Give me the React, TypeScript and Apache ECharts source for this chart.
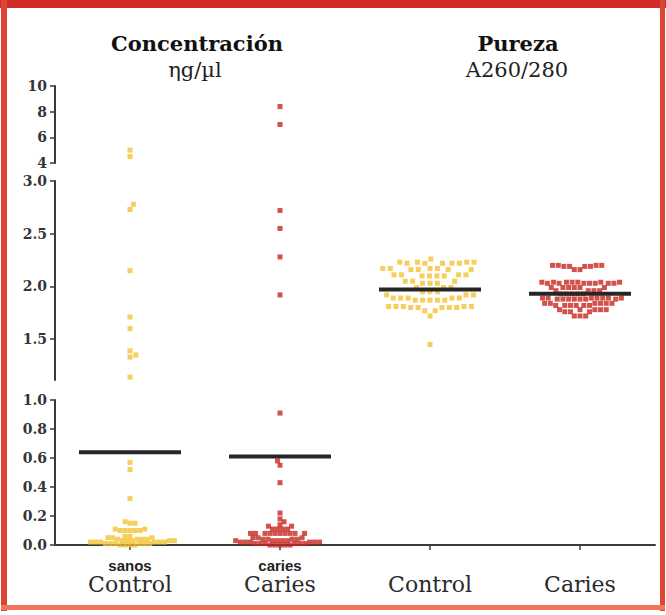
import React, { useEffect, useRef } from 'react';
import * as echarts from 'echarts';

// ---------- data ----------
const categories = ['Control', 'Caries', 'Control', 'Caries'];
const subLabels = ['sanos', 'caries', '', ''];

const controlConcentration = [
  5.0, 4.5,
  2.78, 2.73, 2.15, 1.71, 1.6, 1.39, 1.35, 1.33, 1.14,
  0.57, 0.52, 0.32, 0.15, 0.15, 0.16,
  0.1, 0.1, 0.11, 0.1, 0.1, 0.11, 0.1,
  0.06, 0.06, 0.05, 0.05, 0.05, 0.04, 0.04, 0.04, 0.04, 0.03, 0.03, 0.03,
  0.03, 0.03, 0.02, 0.02, 0.02, 0.02, 0.02, 0.02, 0.01, 0.01, 0.01, 0.01,
  0.01, 0.01, 0.0, 0.0, 0.0, 0.0,
];

const cariesConcentration = [
  8.4, 7.0,
  2.72, 2.55, 2.28, 1.92,
  0.91, 0.58, 0.55, 0.43, 0.22, 0.18, 0.16, 0.14, 0.13, 0.13,
  0.11, 0.11, 0.11, 0.11,
  0.08, 0.08, 0.08, 0.08, 0.08, 0.08, 0.08, 0.08, 0.08, 0.08,
  0.05, 0.05, 0.05, 0.04, 0.04, 0.04, 0.04, 0.03, 0.03, 0.03, 0.03, 0.03,
  0.02, 0.02, 0.02, 0.02, 0.02, 0.02, 0.01, 0.01, 0.01, 0.01, 0.01, 0.01,
  0.0, 0.0, 0.0, 0.0, 0.0,
];

const controlPurity = [
  2.26, 2.23, 2.23, 2.23, 2.23, 2.22, 2.22, 2.22, 2.22, 2.22,
  2.17, 2.17, 2.17, 2.17, 2.16, 2.16, 2.16, 2.16,
  2.11, 2.11, 2.11, 2.11, 2.1, 2.1, 2.1, 2.1,
  2.05, 2.05, 2.05, 2.03, 2.03, 2.03,
  1.99, 1.99, 1.99, 1.95, 1.95, 1.95, 1.92, 1.92, 1.92,
  1.89, 1.89, 1.89, 1.89, 1.89, 1.87, 1.87, 1.87, 1.87, 1.87,
  1.81, 1.81, 1.81, 1.81, 1.81, 1.8, 1.8, 1.8, 1.8, 1.8,
  1.77, 1.77, 1.72, 1.45,
];

const cariesPurity = [
  2.2, 2.2, 2.2, 2.2, 2.19, 2.19, 2.19, 2.19, 2.16, 2.16,
  2.04, 2.04, 2.04, 2.04, 2.04, 2.04, 2.04, 2.03, 2.03, 2.03, 2.03, 2.03, 2.03, 2.03,
  1.99, 1.99, 1.99, 1.99, 1.99, 1.99, 1.96, 1.96, 1.96, 1.96,
  1.93, 1.93, 1.93, 1.93, 1.93,
  1.89, 1.89, 1.89, 1.89, 1.89, 1.89, 1.89, 1.88, 1.88, 1.88, 1.88, 1.88, 1.88, 1.88,
  1.84, 1.84, 1.84, 1.84, 1.84, 1.84, 1.82, 1.82, 1.82, 1.82, 1.82, 1.82,
  1.78, 1.78, 1.78, 1.78, 1.78, 1.76, 1.76, 1.76, 1.72, 1.72, 1.72,
];

const concentrationMeans = [0.64, 0.61];
const purityMeans = [1.97, 1.93];

const yTicksTop = [4, 6, 8, 10];
const yTicksMid = [1.5, 2.0, 2.5, 3.0];
const yTicksLow = [0, 0.2, 0.4, 0.6, 0.8, 1.0];

// ---------- layout ----------
const YELLOW = '#f2c233';
const RED = '#c8281f';
const AXIS = '#3a3a3a';
const GRID_LEFT = 55;
const GRID_W = 600;
const X_MIN = -0.5;
const X_MAX = 3.5;
const PX_PER_X = GRID_W / (X_MAX - X_MIN);

const grids = [
  { top: 86, height: 77, min: 4, max: 10 },
  { top: 181, height: 199, min: 1.113, max: 3.0 },
  { top: 400, height: 145, min: 0, max: 1 },
];

function gridOf(v: number): number {
  if (v >= 4) return 0;
  if (v >= 1.1) return 1;
  return 2;
}

function swarm(values: number[], g: number, center: number, minDist = 6.3): number[][] {
  const gr = grids[g];
  const pxPerUnit = gr.height / (gr.max - gr.min);
  const sorted = [...values].sort((a, b) => a - b);
  const placed: { x: number; y: number }[] = [];
  const out: number[][] = [];
  let flip = 1;
  for (const v of sorted) {
    const py = v * pxPerUnit;
    const blocks: [number, number][] = [];
    for (const p of placed) {
      const dy = Math.abs(p.y - py);
      if (dy < minDist) {
        const dx = Math.sqrt(minDist * minDist - dy * dy);
        blocks.push([p.x - dx, p.x + dx]);
      }
    }
    const cands = [0];
    for (const [a, b] of blocks) cands.push(a, b);
    flip = -flip;
    cands.sort((a, b) => Math.abs(a) - Math.abs(b) || (a - b) * flip);
    let chosen = 0;
    for (const c of cands) {
      if (blocks.every(([a, b]) => c <= a + 1e-6 || c >= b - 1e-6)) {
        chosen = c;
        break;
      }
    }
    placed.push({ x: chosen, y: py });
    out.push([center + chosen / PX_PER_X, v]);
  }
  return out;
}

const labelFont = {
  fontFamily: 'DejaVu Serif',
  fontWeight: 'bold' as const,
  fontSize: 14,
  color: '#353535',
};

function buildOption() {
  const series: any[] = [];
  const groups = [
    { values: controlConcentration, idx: 0, color: YELLOW },
    { values: cariesConcentration, idx: 1, color: RED },
  ];
  for (const grp of groups) {
    for (let g = 0; g < 3; g++) {
      const vals = grp.values.filter((v) => gridOf(v) === g);
      if (!vals.length) continue;
      series.push({
        type: 'scatter',
        xAxisIndex: g,
        yAxisIndex: g,
        symbol: 'rect',
        symbolSize: 5,
        itemStyle: { color: grp.color },
        data: swarm(vals, g, grp.idx, g === 2 ? 5.0 : 6.3),
        z: 2,
      });
    }
  }
  series.push({
    type: 'scatter', xAxisIndex: 1, yAxisIndex: 1, symbol: 'rect', symbolSize: 5,
    itemStyle: { color: YELLOW }, data: swarm(controlPurity, 1, 2, 7.4), z: 2,
  });
  series.push({
    type: 'scatter', xAxisIndex: 1, yAxisIndex: 1, symbol: 'rect', symbolSize: 5,
    itemStyle: { color: RED }, data: swarm(cariesPurity, 1, 3, 5.7), z: 2,
  });
  const half = 0.34;
  concentrationMeans.forEach((m, i) => {
    series.push({
      type: 'line', xAxisIndex: 2, yAxisIndex: 2, symbol: 'none', z: 5,
      lineStyle: { color: '#262626', width: 4 },
      data: [[i - half, m], [i + half, m]],
    });
  });
  purityMeans.forEach((m, i) => {
    series.push({
      type: 'line', xAxisIndex: 1, yAxisIndex: 1, symbol: 'none', z: 5,
      lineStyle: { color: '#262626', width: 4 },
      data: [[i + 2 - half, m], [i + 2 + half, m]],
    });
  });

  const yBase = {
    type: 'value',
    axisLine: { show: true, onZero: false, lineStyle: { color: AXIS, width: 2 } },
    axisTick: { show: true, length: 5, lineStyle: { color: AXIS, width: 1.5 } },
    splitLine: { show: false },
  };

  return {
    animation: false,
    backgroundColor: '#ffffff',
    grid: grids.map((g) => ({ left: GRID_LEFT, width: GRID_W, top: g.top, height: g.height })),
    xAxis: [
      { gridIndex: 0, type: 'value', min: X_MIN, max: X_MAX, show: false },
      { gridIndex: 1, type: 'value', min: X_MIN, max: X_MAX, show: false },
      {
        gridIndex: 2,
        type: 'value',
        min: X_MIN,
        max: X_MAX,
        splitLine: { show: false },
        axisLine: { show: true, onZero: false, lineStyle: { color: AXIS, width: 2 } },
        axisTick: {
          show: true, length: 5, customValues: [0, 1, 2, 3],
          lineStyle: { color: AXIS, width: 1.5 },
        },
        axisLabel: {
          customValues: [0, 1, 2, 3],
          margin: 12,
          formatter: (v: number) => {
            const i = Math.round(v);
            return `{s|${subLabels[i] || ' '}}\n{c|${categories[i]}}`;
          },
          rich: {
            s: {
              fontFamily: 'Liberation Sans', fontWeight: 'bold', fontSize: 15,
              color: '#222', lineHeight: 16, align: 'center',
            },
            c: {
              fontFamily: 'DejaVu Serif', fontSize: 22, color: '#2a2a2a',
              lineHeight: 23, align: 'center',
            },
          },
        },
      },
    ],
    yAxis: [
      {
        ...yBase, gridIndex: 0, min: 4, max: 10, interval: 2,
        axisLabel: { ...labelFont, margin: 8, customValues: yTicksTop, formatter: (v: number) => String(v) },
        axisTick: { ...yBase.axisTick, customValues: yTicksTop },
      },
      {
        ...yBase, gridIndex: 1, min: grids[1].min, max: grids[1].max,
        axisLabel: { ...labelFont, margin: 8, customValues: yTicksMid, formatter: (v: number) => v.toFixed(1) },
        axisTick: { ...yBase.axisTick, customValues: yTicksMid },
      },
      {
        ...yBase, gridIndex: 2, min: 0, max: 1, interval: 0.2,
        axisLabel: { ...labelFont, margin: 8, customValues: yTicksLow, formatter: (v: number) => v.toFixed(1) },
        axisTick: { ...yBase.axisTick, customValues: yTicksLow },
      },
    ],
    graphic: [
      { type: 'rect', shape: { x: 0, y: 0, width: 666, height: 8 }, style: { fill: '#d22b2c' }, z: 10 },
      { type: 'rect', shape: { x: 1, y: 0, width: 6, height: 611 }, style: { fill: '#de4436' }, z: 10 },
      { type: 'rect', shape: { x: 660, y: 0, width: 5, height: 611 }, style: { fill: '#de4436' }, z: 10 },
      { type: 'rect', shape: { x: 1, y: 605, width: 664, height: 5 }, style: { fill: '#ef7658' }, z: 10 },
      {
        type: 'text', x: 197, y: 43,
        style: {
          text: 'Concentración', fontFamily: 'DejaVu Serif', fontWeight: 'bold', fontSize: 21,
          fill: '#111', align: 'center', verticalAlign: 'middle',
        },
      },
      {
        type: 'text', x: 195, y: 70,
        style: {
          text: 'ηg/µl', fontFamily: 'DejaVu Serif', fontSize: 21,
          fill: '#222', align: 'center', verticalAlign: 'middle',
        },
      },
      {
        type: 'text', x: 518, y: 43,
        style: {
          text: 'Pureza', fontFamily: 'DejaVu Serif', fontWeight: 'bold', fontSize: 21,
          fill: '#111', align: 'center', verticalAlign: 'middle',
        },
      },
      {
        type: 'text', x: 517, y: 70,
        style: {
          text: 'A260/280', fontFamily: 'DejaVu Serif', fontSize: 21,
          fill: '#222', align: 'center', verticalAlign: 'middle',
        },
      },
    ],
    series,
  };
}

export default function App() {
  const ref = useRef<HTMLDivElement>(null);
  useEffect(() => {
    if (!ref.current) return;
    const chart = echarts.init(ref.current, undefined, { renderer: 'svg' });
    chart.setOption(buildOption() as any);
    return () => chart.dispose();
  }, []);
  return (
    <div
      ref={ref}
      style={{ position: 'absolute', left: 0, top: 0, width: 666, height: 615, background: '#fff' }}
    />
  );
}
